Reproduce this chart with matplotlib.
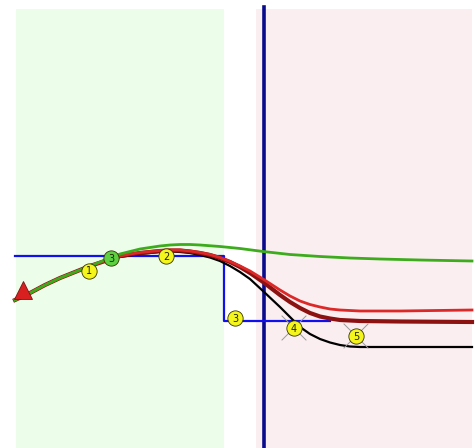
import matplotlib
matplotlib.use("Agg")
import matplotlib.pyplot as plt

# ── Curve samples (pixel-space) ───────────────────────────────────────────────
GREEN_X = [15, 30, 45, 60, 75, 90, 105, 120, 130, 140, 150, 160, 170, 180, 190, 200, 220, 240, 263, 290, 320, 350, 380, 420, 472]
GREEN_Y = [300, 293, 285, 278, 272, 266, 260, 254, 251.5, 249, 247.5, 246, 245, 244.5, 244.5, 245, 246.5, 248.5, 251.5, 254.5, 256.5, 258, 259, 260, 261]

DARKRED_X = [15, 30, 45, 60, 75, 90, 105, 120, 130, 140, 150, 160, 170, 180, 190, 200, 210, 220, 230, 240, 250, 263, 280, 290, 300, 310, 320, 330, 340, 360, 400, 472]
DARKRED_Y = [300, 293, 285, 278, 272, 266, 261, 256, 254.5, 253, 252, 251, 250.5, 250.5, 251.5, 253, 255, 258, 262, 267, 273, 282, 295, 302, 308, 313, 316.5, 318.5, 320, 321, 321.5, 322]

LIGHTRED_X = [15, 30, 45, 60, 75, 90, 105, 120, 130, 140, 150, 160, 170, 180, 190, 200, 210, 220, 230, 240, 250, 263, 280, 290, 300, 310, 320, 330, 340, 360, 400, 472]
LIGHTRED_Y = [300, 293, 285, 278, 272, 266, 261, 256, 254, 252.5, 251.5, 250.5, 250, 250, 251, 252.5, 254.5, 257.5, 261.5, 266, 271, 279, 290, 296, 301, 304.5, 307, 309, 310, 311, 311, 310]

BLACK_X = [15, 30, 45, 60, 75, 90, 105, 120, 130, 140, 150, 160, 170, 180, 190, 200, 210, 220, 230, 240, 250, 263, 280, 290, 300, 310, 320, 330, 340, 350, 360, 400, 472]
BLACK_Y = [300, 293, 285, 278, 272, 266, 261, 257, 255.5, 254, 253, 252, 251.5, 252, 253, 255, 257.5, 261, 266, 272, 279, 291, 307, 317, 327, 334, 339, 342.5, 345, 346.5, 347, 347, 347]

STEP_X = [15, 224, 224, 330]
STEP_Y = [256, 256, 321, 321]

# numbered waypoints
WP_X = [89, 111, 166, 235, 294, 356]
WP_Y = [271, 258, 256, 318, 328, 336]
WP_LABELS = ["1", "3", "2", "3", "4", "5"]
WP_FILL = ["#f5f51e", "#5cd040", "#f5f51e", "#f5f51e", "#f5f51e", "#f5f51e"]
WP_CROSSED = [False, False, False, False, True, True]

START_X, START_Y = 23, 290

fig = plt.figure(figsize=(4.75, 4.48), dpi=100)
ax = fig.add_axes([0, 0, 1, 1])
ax.set_xlim(0, 475)
ax.set_ylim(448, 0)
ax.axis("off")

# background zones
ax.axvspan(16, 224, ymin=0, ymax=1 - 9 / 448, color="#ecfdea", zorder=0, lw=0)
ax.axvspan(256, 472, ymin=0, ymax=1 - 9 / 448, color="#fbeef0", zorder=0, lw=0)

# vertical divider
ax.plot([264, 264], [7, 448], color="#0a0a8c", lw=2.6, zorder=2)

# blue step path
ax.plot(STEP_X, STEP_Y, color="#1010ee", lw=1.6, zorder=3)

# trajectories
ax.plot(BLACK_X, BLACK_Y, color="black", lw=1.6, zorder=4, solid_joinstyle="round")
ax.plot(DARKRED_X, DARKRED_Y, color="#8c1212", lw=3.0, zorder=5, solid_joinstyle="round")
ax.plot(LIGHTRED_X, LIGHTRED_Y, color="#dd2828", lw=2.0, zorder=6, solid_joinstyle="round")
ax.plot(GREEN_X, GREEN_Y, color="#3cac1c", lw=2.0, zorder=7, solid_joinstyle="round")

# start marker
ax.plot(START_X, START_Y, marker="^", ms=13, color="#d82020",
        mec="#801010", mew=0.6, zorder=9)

# waypoints
for x, y, lab, fc, crossed in zip(WP_X, WP_Y, WP_LABELS, WP_FILL, WP_CROSSED):
    if crossed:
        ax.plot([x - 12, x + 12], [y - 12, y + 12], color="#999999", lw=0.7, zorder=8)
        ax.plot([x - 12, x + 12], [y + 12, y - 12], color="#999999", lw=0.7, zorder=8)
    ax.plot(x, y, marker="o", ms=11, color=fc, mec="#333300", mew=0.6, zorder=9)
    ax.text(x, y + 0.5, lab, ha="center", va="center", fontsize=7,
            color="#222200", zorder=10)

fig.savefig("out.png", dpi=100)
